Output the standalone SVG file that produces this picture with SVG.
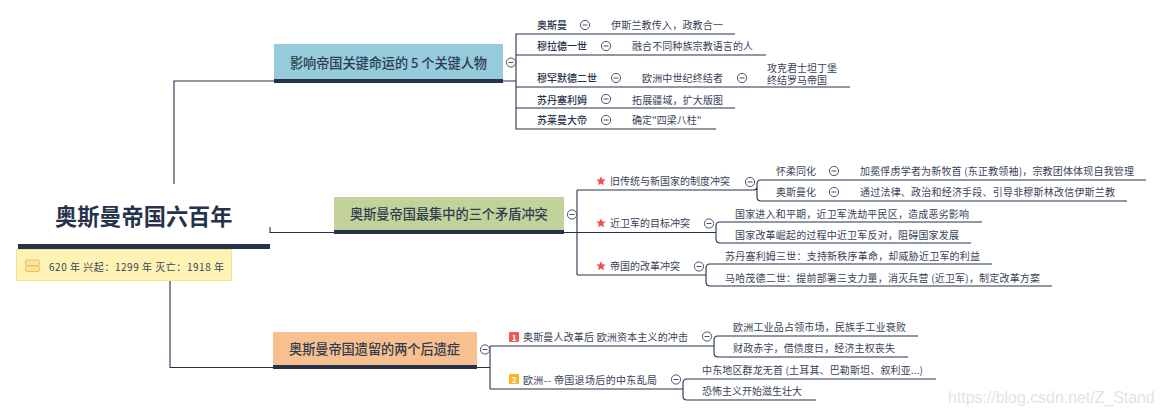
<svg xmlns="http://www.w3.org/2000/svg" width="1162" height="416" viewBox="0 0 1162 416">
<style>
text{font-family:"Noto Sans CJK SC","Noto Sans",sans-serif;dominant-baseline:central;fill:#3a4356;font-size:10px}
.title{font-size:22.2px;font-weight:700;fill:#25324a}
.topic{font-size:13.2px;font-weight:500;fill:#2f3b50}
.key{font-weight:500;fill:#25324a}
.bar{fill:#25324a}
.ln{fill:none;stroke:#25324a;stroke-width:1.1}
.c{fill:#fff;stroke:#4a566c;stroke-width:1}
.m{stroke:#4a566c;stroke-width:1}
</style>
<defs>
<g id="col"><circle class="c" r="4.6"/><path class="m" d="M-2.5 0H2.5"/></g>
<polygon id="star" fill="#ee4f4b" points="0,-4.8 1.4,-1.6 4.7,-1.4 2.2,0.8 3,4.2 0,2.4 -3,4.2 -2.2,0.8 -4.7,-1.4 -1.4,-1.6"/>
</defs>
<g id="connectors">
<path class="ln" d="M274 81H174V184"/>
<path class="ln" d="M270 227V232.5H334"/>
<path class="ln" d="M170 281V367.5H273"/>
<path class="ln" d="M503 81H516M735 34H516V129H716M516 55H766M516 87H850M516 108H735"/>
<path class="ln" d="M564 232.5H577M577 190V275M577 190H754Q757 190 757 187V184Q757 180 761 180H1146M757 187V197Q757 201 761 201H1127"/>
<path class="ln" d="M577 232.5H716M716 232.5V226Q716 222 720 222H982M716 232.5V239Q716 243 720 243H971"/>
<path class="ln" d="M577 275H706M706 275V268Q706 264 710 264H992M706 275V282Q706 286 710 286H1052"/>
<path class="ln" d="M477 367.5H490M490 346V389M490 346H714M714 346V340Q714 336 718 336H918M714 346V353Q714 357 718 357H908"/>
<path class="ln" d="M490 389H683M683 389V383Q683 379 687 379H936M683 389V396Q683 400 687 400H816"/>
</g>
<g id="root">
<text class="title" x="55" y="214.5">奥斯曼帝国六百年</text>
<rect class="bar" x="18" y="244" width="252" height="5"/>
<rect x="16.5" y="249.5" width="215" height="31" fill="#fef3b5" stroke="#fae08a"/>
<rect x="25.5" y="260" width="14" height="5.5" rx="1.5" fill="#fde3a0" stroke="#f6bf4f"/>
<rect x="25.5" y="266" width="14" height="5.5" rx="1.5" fill="#fde3a0" stroke="#f6bf4f"/>
<text x="49" y="266" textLength="175">620 年 兴起&#xFF1A;1299 年 灭亡&#xFF1A;1918 年</text>
</g>
<g id="topic1">
<rect x="274" y="44" width="229" height="35" fill="#95cbdb"/>
<rect class="bar" x="274" y="79" width="229" height="4"/>
<text class="topic" x="290" y="62.5" textLength="197">影响帝国关键命运的 5 个关键人物</text>
<use href="#col" x="511" y="62.5"/>
</g>
<g id="t1-a"><text class="key" x="537" y="24.5">奥斯曼</text><use href="#col" x="585" y="25"/><text x="611" y="24.5" textLength="112">伊斯兰教传入&#xFF0C;政教合一</text></g>
<g id="t1-b"><text class="key" x="537" y="45.5">穆拉德一世</text><use href="#col" x="606" y="46"/><text x="632" y="45.5" textLength="121">融合不同种族宗教语言的人</text></g>
<g id="t1-c"><text class="key" x="537" y="77.5">穆罕默德二世</text><use href="#col" x="616" y="78"/><text x="642" y="77.5" textLength="81">欧洲中世纪终结者</text><use href="#col" x="742" y="78"/><text y="67"><tspan x="767" y="66.5">攻克君士坦丁堡</tspan><tspan x="767" y="78.5">终结罗马帝国</tspan></text></g>
<g id="t1-d"><text class="key" x="537" y="99.5">苏丹塞利姆</text><use href="#col" x="606" y="99"/><text x="632" y="99.5" textLength="91">拓展疆域&#xFF0C;扩大版图</text></g>
<g id="t1-e"><text class="key" x="537" y="119.5">苏莱曼大帝</text><use href="#col" x="606" y="120"/><text x="632" y="119.5">确定&quot;四梁八柱&quot;</text></g>
<g id="topic2">
<rect x="334" y="197" width="230" height="33" fill="#c1d39a"/>
<rect class="bar" x="334" y="230" width="230" height="4"/>
<text class="topic" x="350" y="213.5">奥斯曼帝国最集中的三个矛盾冲突</text>
<use href="#col" x="572" y="214.5"/>
</g>
<g id="t2-a"><use href="#star" x="601" y="181"/><text x="610" y="180.5">旧传统与新国家的制度冲突</text><use href="#col" x="750" y="182"/>
<text x="776" y="170.5">怀柔同化</text><use href="#col" x="834" y="171"/><text x="860" y="170.5" textLength="274">加冕俘虏学者为新牧首 (东正教领袖)&#xFF0C;宗教团体体现自我管理</text>
<text x="776" y="191.5">奥斯曼化</text><use href="#col" x="834" y="192"/><text x="860" y="191.5" textLength="255">通过法律、政治和经济手段、引导非穆斯林改信伊斯兰教</text></g>
<g id="t2-b"><use href="#star" x="601" y="223"/><text x="610" y="222.5">近卫军的目标冲突</text><use href="#col" x="709" y="223.5"/>
<text x="735" y="213.5" textLength="234">国家进入和平期&#xFF0C;近卫军洗劫平民区&#xFF0C;造成恶劣影响</text>
<text x="735" y="234.5" textLength="224">国家改革崛起的过程中近卫军反对&#xFF0C;阻碍国家发展</text></g>
<g id="t2-c"><use href="#star" x="601" y="266"/><text x="610" y="265.5">帝国的改革冲突</text><use href="#col" x="699" y="266.5"/>
<text x="725" y="255.5" textLength="255">苏丹塞利姆三世&#xFF1A;支持新秩序革命&#xFF0C;却威胁近卫军的利益</text>
<text x="725" y="277.5" textLength="315">马哈茂德二世&#xFF1A;提前部署三支力量&#xFF0C;消灭兵营 (近卫军)&#xFF0C;制定改革方案</text></g>
<g id="topic3">
<rect x="273" y="332" width="204" height="33" fill="#f8c08f"/>
<rect class="bar" x="273" y="365" width="204" height="4"/>
<text class="topic" x="289" y="348.5" textLength="171">奥斯曼帝国遗留的两个后遗症</text>
<use href="#col" x="485" y="349.5"/>
</g>
<g id="t3-a"><rect x="509" y="332" width="10" height="10" rx="1" fill="#ee5a56"/><text x="514" y="337" text-anchor="middle" style="fill:#fff;font-size:8px;font-weight:700">1</text><text x="523" y="336.5" textLength="165">奥斯曼人改革后 欧洲资本主义的冲击</text><use href="#col" x="707" y="336.5"/>
<text x="733" y="326.5" textLength="173">欧洲工业品占领市场&#xFF0C;民族手工业衰败</text>
<text x="733" y="347.5" textLength="162">财政赤字&#xFF0C;借债度日&#xFF0C;经济主权丧失</text></g>
<g id="t3-b"><rect x="509" y="374" width="10" height="10" rx="1" fill="#fdb22c"/><text x="514" y="379" text-anchor="middle" style="fill:#fff;font-size:8px;font-weight:700">2</text><text x="523" y="379.5" textLength="134">欧洲-- 帝国退场后的中东乱局</text><use href="#col" x="676" y="379.5"/>
<text x="702" y="369.5" textLength="221">中东地区群龙无首 (土耳其、巴勒斯坦、叙利亚...)</text>
<text x="702" y="390.5">恐怖主义开始滋生壮大</text></g>
<text x="948" y="397" style="font-family:'Liberation Sans',sans-serif;font-size:15.9px;fill:#e3e3e3">https://blog.csdn.net/Z_Stand</text>
</svg>
